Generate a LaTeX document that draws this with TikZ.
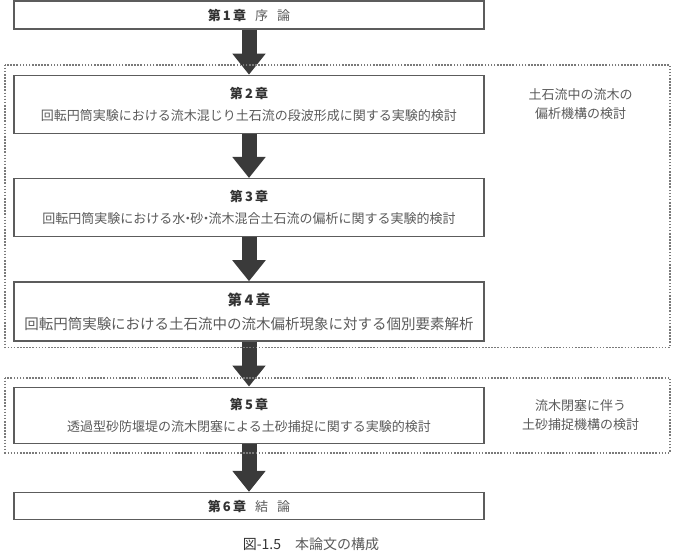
\documentclass[tikz,border=0pt]{standalone}
\usepackage{fontspec}
\setmainfont{Noto Sans CJK JP}
\usepackage{xcolor}
\usetikzlibrary{arrows.meta,positioning,calc}
\definecolor{boxline}{HTML}{5C5C5C}
\definecolor{dotgray}{HTML}{7A7A7A}
\definecolor{arrgray}{HTML}{3A3A3A}
\definecolor{hdgray}{HTML}{333333}
\definecolor{txtgray}{HTML}{5A5A5A}

\begin{document}
\begin{tikzpicture}[
  x=1pt, y=1pt,
  font=\fontsize{13}{22}\selectfont,
  node distance=44pt,
  chap/.style={draw=boxline, line width=1.3pt, align=center, minimum width=470pt, inner sep=0pt, text=txtgray},
  grp/.style={draw=dotgray, line width=1.9pt, dash pattern=on 1.6pt off 1.5pt},
  note/.style={align=center, text=txtgray, font=\fontsize{13}{19}\selectfont},
  bigarr/.style={-{Triangle[length=21pt,width=32pt]}, line width=15pt, draw=arrgray}
]
\useasboundingbox (0,0) rectangle (678,-556);

% Chapter column
\node[chap, minimum height=28pt] (ch1) at (249,-15) {{\bfseries\color{hdgray}第\,1\,章}\hspace{0.7em}序\hspace{0.7em}論};
\node[chap, minimum height=58pt, below=45pt of ch1] (ch2) {{\bfseries\color{hdgray}第\,2\,章}\\回転円筒実験における流木混じり土石流の段波形成に関する実験的検討};
\node[chap, minimum height=58pt, below=of ch2] (ch3) {{\bfseries\color{hdgray}第\,3\,章}\\回転円筒実験における水\kern-.3em・\kern-.3em砂\kern-.3em・\kern-.3em流木混合土石流の偏析に関する実験的検討};
\node[chap, minimum height=59pt, below=of ch3, font=\fontsize{14.5}{24}\selectfont] (ch4) {{\bfseries\color{hdgray}第\,4\,章}\\回転円筒実験における土石流中の流木偏析現象に対する個別要素解析};
\node[chap, minimum height=56pt, below=45pt of ch4] (ch5) {{\bfseries\color{hdgray}第\,5\,章}\\透過型砂防堰堤の流木閉塞による土砂捕捉に関する実験的検討};
\node[chap, minimum height=27pt, below=48pt of ch5] (ch6) {{\bfseries\color{hdgray}第\,6\,章}\hspace{0.7em}結\hspace{0.7em}論};
\draw[bigarr] (ch1)--(ch2);
\draw[bigarr] (ch2)--(ch3);
\draw[bigarr] (ch3)--(ch4);
\draw[bigarr] (ch4)--(ch5);
\draw[bigarr] (ch5)--(ch6);

% Groups
\draw[grp] ($(ch2.north west)+(-8,10)$) rectangle ($(ch4.south east)+(185,-6)$);
\draw[grp] ($(ch5.north west)+(-8,9)$) rectangle ($(ch5.south east)+(185,-9)$);
\node[note] (n1) at ($(ch2.east)+(96,0)$) {土石流中の流木の\\偏析機構の検討};
\node[note] (n2) at ($(ch5.east)+(96,0)$) {流木閉塞に伴う\\土砂捕捉機構の検討};

% Caption
\node[text=txtgray, font=\fontsize{14}{16}\selectfont] (cap) at ($(ch6.south)+(62,-24)$) {{\color{hdgray}図-1.5}\hspace{1em}本論文の構成};
\end{tikzpicture}
\end{document}
